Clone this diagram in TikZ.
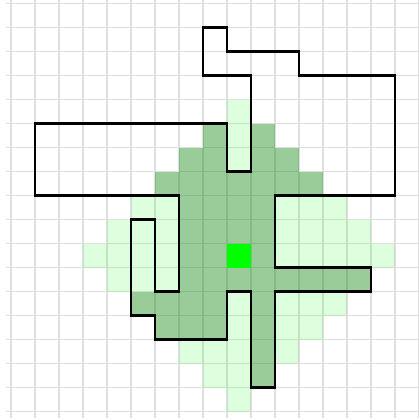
\documentclass[tikz,border=0pt]{standalone}
\usepackage{xcolor}
\usepackage{tikz}

\definecolor{gridgray}{RGB}{223,223,223}
\definecolor{reachgreen}{RGB}{0,128,0}
\definecolor{startgreen}{RGB}{0,255,0}

\begin{document}
\begin{tikzpicture}[
                x=0.6cm, y=0.6cm,
                gridline/.style={draw=gridgray, line width=1.3pt},
                rangecell/.style={fill=startgreen, fill opacity=0.135},
                reachcell/.style={fill=reachgreen, fill opacity=0.4},
                startcell/.style={fill=startgreen},
                wall/.style={draw=black, line width=2.1pt},
            ]

            \useasboundingbox (-0.458,0.146) rectangle (17,-17.354);

            % --- grid -------------------------------------------------------
            \foreach \c in {0,...,17}
                \draw[gridline] (\c,0.146) -- (\c,-17.27);
            \foreach \r in {0,...,17}
                \draw[gridline] (-0.2,-\r) -- (17,-\r);

            % --- cells in range, not reached -------------------------------
            \foreach \r/\cs in {4/{9}, 5/{9}, 6/{9}, 8/{5,6,11,12,13},
                    9/{4,5,6,11,12,13,14}, 10/{3,4,5,6,11,12,13,14,15},
                    11/{4,5,6}, 12/{9,11,12,13}, 13/{9,11,12},
                    14/{7,8,9,11}, 15/{8,9}, 16/{9}}
                \foreach \c in \cs
                    \fill[rangecell] (\c,-\r) rectangle ++(1,-1);

            % --- reached cells ---------------------------------------------
            \foreach \r/\cs in {5/{8,10}, 6/{7,8,10,11}, 7/{6,7,8,9,10,11,12},
                    8/{7,8,9,10}, 9/{7,8,9,10}, 10/{7,8,10},
                    11/{7,8,9,10,11,12,13,14}, 12/{5,6,7,8,10},
                    13/{6,7,8,10}, 14/{10}, 15/{10}}
                \foreach \c in \cs
                    \fill[reachcell] (\c,-\r) rectangle ++(1,-1);

            % --- start ------------------------------------------------------
            \fill[startcell] (9,-10) rectangle ++(1,-1);

            % --- walls ------------------------------------------------------
            \draw[wall] (8,-1) -- (9,-1) -- (9,-2) -- (12,-2) -- (12,-3) -- (16,-3)
                -- (16,-8) -- (11,-8) -- (11,-11) -- (15,-11) -- (15,-12) -- (11,-12)
                -- (11,-16) -- (10,-16) -- (10,-12) -- (9,-12) -- (9,-14) -- (6,-14)
                -- (6,-13) -- (5,-13) -- (5,-9) -- (6,-9) -- (6,-12) -- (7,-12)
                -- (7,-8) -- (1,-8) -- (1,-5) -- (9,-5) -- (9,-7) -- (10,-7)
                -- (10,-3) -- (8,-3) -- cycle;
        \end{tikzpicture}
\end{document}
